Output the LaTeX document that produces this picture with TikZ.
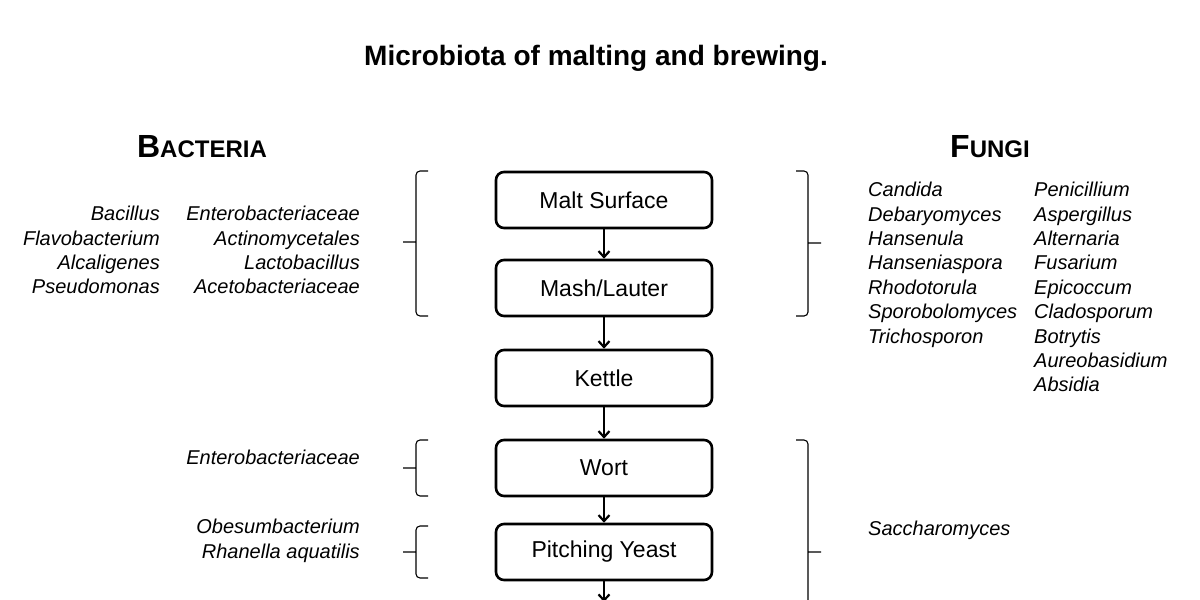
\documentclass[tikz,border=0pt]{standalone}
\usepackage{fontspec}
\setmainfont{Liberation Sans}
\usetikzlibrary{arrows.meta,positioning,calc}

\begin{document}
\begin{tikzpicture}[x=1pt,y=-1pt,
    stage/.style={rectangle, draw, line width=2.6pt, rounded corners=8pt,
                 minimum width=216pt, minimum height=56pt, align=center,
                 font=\fontsize{23}{26}\selectfont},
    arr/.style={-{Straight Barb[length=6pt,width=11pt]}, line width=2.2pt},
    brace/.style={line width=1.1pt, rounded corners=4pt},
    list/.style={font=\fontsize{20}{24.4}\selectfont\itshape, inner sep=0pt},
    header/.style={font=\bfseries, inner sep=0pt}
  ]
    \useasboundingbox (0,0) rectangle (1200,600);
    \node[font=\fontsize{28}{30}\selectfont\bfseries] (title) at (596,58) {Microbiota of malting and brewing.};
    \node[header] (bact) at (202,147) {\fontsize{32}{34}\selectfont B\fontsize{24}{34}\selectfont ACTERIA};
    \node[header] (fungi) at (990,147) {\fontsize{32}{34}\selectfont F\fontsize{24}{34}\selectfont UNGI};

    % process stages
    \node[stage] (malt) at (604,200)   {Malt Surface};
    \node[stage] (mash) at (604,288)   {Mash/Lauter};
    \node[stage] (kettle) at (604,378) {Kettle};
    \node[stage] (wort) at (604,468)   {Wort};
    \node[stage] (pitch) at (604,552)  {Pitching Yeast};
    \coordinate (next) at (604,602);

    \draw[arr] (malt) -- (mash);
    \draw[arr] (mash) -- (kettle);
    \draw[arr] (kettle) -- (wort);
    \draw[arr] (wort) -- (pitch);
    \draw[arr] (pitch) -- (next);

    % braces
    \draw[brace] (428,171) -- (416,171) -- (416,316) -- (428,316) (416,242) -- (403,242);
    \draw[brace] (796,171) -- (808,171) -- (808,316) -- (796,316) (808,243) -- (821,243);
    \draw[brace] (428,440) -- (416,440) -- (416,496) -- (428,496) (416,468) -- (403,468);
    \draw[brace] (428,526) -- (416,526) -- (416,578) -- (428,578) (416,552) -- (403,552);
    \draw[brace] (796,440) -- (808,440) -- (808,610) (808,552) -- (821,552);

    % bacteria
    \node[list, align=right, anchor=north east] (bact1) at (160,206)
      {Bacillus\\Flavobacterium\\Alcaligenes\\Pseudomonas};
    \node[list, align=right, anchor=north east] (bact2) at (360,206)
      {Enterobacteriaceae\\Actinomycetales\\Lactobacillus\\Acetobacteriaceae};
    \node[list, anchor=east] (bact3) at (360,457) {Enterobacteriaceae};
    \node[list, align=right, anchor=north east] (bact4) at (360,519)
      {Obesumbacterium\\Rhanella aquatilis};

    % fungi
    \node[list, align=left, anchor=north west] (fung1) at (868,182)
      {Candida\\Debaryomyces\\Hansenula\\Hanseniaspora\\Rhodotorula\\Sporobolomyces\\Trichosporon};
    \node[list, align=left, anchor=north west] (fung2) at (1034,182)
      {Penicillium\\Aspergillus\\Alternaria\\Fusarium\\Epicoccum\\Cladosporum\\Botrytis\\Aureobasidium\\Absidia};
    \node[list, anchor=west] (fung3) at (868,530) {Saccharomyces};
  \end{tikzpicture}
\end{document}
